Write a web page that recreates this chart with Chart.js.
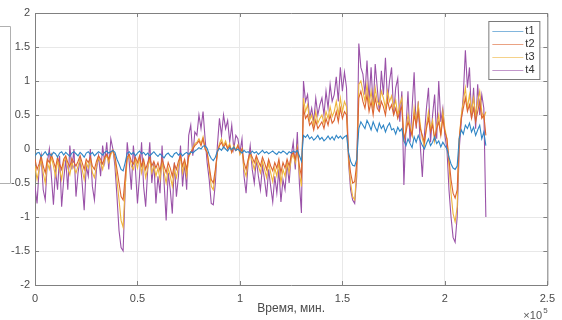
<!DOCTYPE html>
<html>
<head>
<meta charset="utf-8">
<script src="https://cdn.jsdelivr.net/npm/chart.js@4.4.0/dist/chart.umd.min.js"></script>
<style>
  html, body { margin: 0; padding: 0; background: #fff; }
</style>
</head>
<body>
<canvas id="grafico" width="562" height="320"></canvas>
<script>
// paso de muestreo en el eje X (unidades originales, eje en x10^5)
const pasoX = 1000;
const nombres = ['t1', 't2', 't3', 't4'];
const colores = ['#2f86c6', '#dc6430', '#eeb43c', '#9a52a8'];
const ticksX = [0, 0.5, 1, 1.5, 2, 2.5];
const ticksY = [-2, -1.5, -1, -0.5, 0, 0.5, 1, 1.5, 2];

const t1 = [
  -0.1,-0.06,-0.05,-0.11,-0.08,-0.04,-0.09,-0.06,-0.1,-0.05,-0.07,-0.12,-0.06,-0.04,-0.09,-0.05,-0.08,-0.11,-0.06,-0.04,
  -0.07,-0.1,-0.05,-0.08,-0.12,-0.06,-0.04,-0.08,-0.05,-0.1,-0.07,-0.04,-0.06,-0.09,-0.05,-0.03,-0.06,-0.04,-0.02,-0.05,
  -0.15,-0.22,-0.3,-0.32,-0.2,-0.06,-0.04,-0.08,-0.05,-0.1,-0.06,-0.03,-0.07,-0.05,-0.09,-0.06,-0.1,-0.07,-0.04,-0.08,
  -0.11,-0.07,-0.1,-0.13,-0.08,-0.06,-0.1,-0.12,-0.07,-0.05,-0.09,-0.06,-0.1,-0.07,-0.05,-0.08,-0.04,-0.06,-0.03,-0.01,
  0.02,0.0,0.04,0.05,0.01,-0.08,-0.14,-0.17,-0.12,-0.03,0.01,-0.02,0.03,0.0,-0.03,0.02,-0.01,0.03,-0.02,0.0,
  -0.03,-0.06,-0.02,-0.05,-0.04,-0.07,-0.03,-0.06,-0.04,-0.08,-0.05,-0.02,-0.06,-0.04,-0.07,-0.05,-0.03,-0.06,-0.08,-0.04,
  -0.06,-0.03,-0.05,-0.08,-0.04,-0.06,-0.03,-0.05,-0.02,-0.1,-0.18,0.2,0.17,0.21,0.15,0.18,0.13,0.16,0.2,0.14,
  0.17,0.12,0.15,0.19,0.14,0.18,0.13,0.2,0.16,0.19,0.15,0.18,0.2,-0.05,-0.18,-0.24,-0.25,-0.15,0.3,0.4,
  0.35,0.3,0.42,0.36,0.28,0.4,0.32,0.26,0.38,0.3,0.35,0.25,0.33,0.38,0.28,0.3,0.22,0.32,0.26,0.3,
  0.12,0.05,0.15,0.08,0.02,0.18,0.1,0.2,0.12,0.05,0.0,0.08,0.15,0.05,0.1,0.18,0.08,0.12,0.03,0.1,
  0.05,0.0,-0.12,-0.22,-0.28,-0.3,-0.25,0.15,0.28,0.22,0.35,0.3,0.38,0.25,0.32,0.2,0.28,0.35,0.15,0.25,0.05
];
const t2 = [
  -0.15,-0.3,-0.22,-0.1,-0.25,-0.35,-0.15,-0.2,-0.08,-0.18,-0.28,-0.12,-0.22,-0.3,-0.15,-0.1,-0.2,-0.26,-0.14,-0.2,
  -0.25,-0.18,-0.1,-0.2,-0.3,-0.15,-0.2,-0.12,-0.25,-0.3,-0.18,-0.1,-0.15,-0.22,-0.12,-0.08,-0.15,-0.05,-0.02,-0.1,
  -0.3,-0.5,-0.7,-0.75,-0.4,-0.12,-0.08,-0.18,-0.22,-0.12,-0.2,-0.1,-0.25,-0.15,-0.3,-0.2,-0.12,-0.25,-0.18,-0.28,
  -0.2,-0.32,-0.15,-0.25,-0.35,-0.2,-0.28,-0.4,-0.22,-0.3,-0.18,-0.1,-0.25,-0.15,-0.3,-0.1,-0.05,0.0,0.05,0.08,
  0.12,0.05,0.15,0.0,-0.05,-0.25,-0.45,-0.5,-0.3,-0.05,0.05,0.1,0.02,0.08,0.0,0.05,-0.05,0.02,-0.02,0.05,
  -0.05,0.0,-0.2,-0.3,-0.15,-0.05,-0.12,-0.2,-0.1,-0.18,-0.25,-0.12,-0.2,-0.3,-0.15,-0.25,-0.32,-0.2,-0.28,-0.15,
  -0.35,-0.2,-0.28,-0.15,-0.25,-0.1,-0.05,-0.15,0.0,-0.25,-0.4,0.6,0.45,0.5,0.35,0.4,0.28,0.42,0.3,0.35,
  0.4,0.3,0.45,0.35,0.5,0.38,0.42,0.55,0.4,0.6,0.45,0.55,0.5,-0.1,-0.35,-0.5,-0.48,-0.2,0.75,0.85,
  0.7,0.6,0.8,0.55,0.7,0.5,0.75,0.6,0.55,0.7,0.62,0.5,0.72,0.58,0.65,0.5,0.6,0.45,0.55,0.62,
  0.15,0.25,0.4,0.3,0.2,0.5,0.35,0.55,0.3,0.2,0.1,0.3,0.45,0.25,0.35,0.15,0.3,0.4,0.2,0.45,
  0.25,0.15,-0.15,-0.45,-0.65,-0.72,-0.6,0.15,0.45,0.6,0.75,0.55,0.65,0.45,0.6,0.4,0.55,0.7,0.45,0.5,0.2
];
const t3 = [
  -0.25,-0.45,-0.3,-0.15,-0.35,-0.5,-0.2,-0.3,-0.12,-0.25,-0.4,-0.18,-0.3,-0.45,-0.2,-0.12,-0.28,-0.38,-0.2,-0.28,
  -0.35,-0.25,-0.15,-0.3,-0.45,-0.2,-0.28,-0.15,-0.35,-0.42,-0.25,-0.12,-0.2,-0.3,-0.15,-0.1,-0.2,-0.08,-0.02,-0.15,
  -0.45,-0.75,-1.05,-1.15,-0.55,-0.15,-0.1,-0.25,-0.3,-0.15,-0.28,-0.12,-0.35,-0.2,-0.42,-0.28,-0.15,-0.35,-0.25,-0.4,
  -0.28,-0.45,-0.2,-0.35,-0.5,-0.28,-0.4,-0.55,-0.3,-0.42,-0.25,-0.12,-0.35,-0.2,-0.4,-0.12,-0.05,0.02,0.08,0.1,
  0.15,0.08,0.18,0.02,-0.05,-0.3,-0.55,-0.6,-0.35,-0.05,0.08,0.15,0.05,0.12,0.02,0.08,-0.05,0.05,-0.02,0.06,
  -0.08,0.0,-0.3,-0.4,-0.2,-0.08,-0.18,-0.3,-0.15,-0.25,-0.35,-0.18,-0.3,-0.42,-0.2,-0.35,-0.48,-0.28,-0.4,-0.2,
  -0.5,-0.3,-0.4,-0.2,-0.35,-0.15,-0.08,-0.2,0.02,-0.35,-0.55,0.75,0.55,0.65,0.42,0.5,0.35,0.55,0.38,0.45,
  0.5,0.38,0.55,0.45,0.62,0.48,0.55,0.7,0.5,0.75,0.55,0.7,0.62,-0.15,-0.5,-0.7,-0.75,-0.3,0.95,1.0,
  0.85,0.7,0.95,0.65,0.85,0.6,0.9,0.7,0.65,0.85,0.75,0.6,0.85,0.7,0.78,0.6,0.72,0.5,0.65,0.75,
  0.1,0.3,0.5,0.35,0.2,0.6,0.4,0.65,0.35,0.15,0.05,0.35,0.55,0.3,0.42,0.12,0.35,0.5,0.2,0.55,
  0.3,0.15,-0.25,-0.65,-0.95,-1.07,-0.85,0.15,0.5,0.7,0.9,0.6,0.8,0.55,0.75,0.5,0.7,0.85,0.55,0.45,0.55
];
const t4 = [
  -0.55,-0.8,-0.3,-0.1,-0.6,-0.75,-0.2,0.0,-0.4,-0.82,-0.3,-0.6,-0.1,-0.85,-0.45,-0.15,-0.6,0.05,-0.3,0.0,
  -0.7,-0.35,-0.15,-0.5,-0.9,-0.25,-0.4,0.0,-0.55,-0.75,-0.3,-0.1,-0.4,0.05,-0.2,0.1,-0.3,0.15,0.0,-0.25,
  -0.7,-1.2,-1.45,-1.5,-0.6,0.1,-0.2,-0.6,0.05,-0.3,-0.8,-0.4,0.1,-0.55,-0.85,-0.3,0.1,-0.5,-0.2,-0.8,
  -0.4,-0.65,0.05,-0.5,-1.05,-0.35,-0.6,-0.95,-0.2,-0.7,-0.4,0.05,-0.55,-0.2,-0.6,0.2,0.35,-0.1,0.25,0.2,
  0.5,0.3,0.55,0.15,-0.2,-0.45,-0.8,-0.82,-0.5,0.05,0.45,0.2,0.5,0.3,0.42,0.1,0.35,0.0,0.2,0.15,
  -0.05,0.15,-0.4,-0.65,-0.2,0.05,-0.3,-0.5,-0.15,-0.4,-0.6,-0.25,-0.45,-0.7,-0.3,-0.55,-0.78,-0.4,-0.65,-0.3,
  -0.78,-0.45,-0.6,-0.2,-0.5,-0.1,0.1,-0.3,0.25,-0.5,-0.94,1.0,0.7,0.8,0.45,0.6,0.4,0.75,0.5,0.65,
  0.75,0.5,0.85,0.6,0.95,0.7,0.8,1.06,0.7,1.2,0.85,1.13,0.9,-0.2,-0.6,-0.75,-0.8,-0.4,1.55,1.2,
  1.1,0.8,1.3,0.7,1.2,0.6,1.25,0.9,0.55,1.15,0.8,1.34,0.7,1.0,1.2,0.5,0.9,1.04,0.4,0.85,
  -0.53,0.3,0.85,0.1,0.6,1.13,0.3,0.7,0.05,-0.41,0.2,0.6,0.9,0.1,0.5,0.8,0.15,1.0,0.4,0.6,
  0.2,0.0,-0.6,-1.0,-1.3,-1.37,-1.0,0.0,0.4,0.8,1.45,0.9,1.2,0.45,0.9,0.3,0.95,0.5,0.8,0.6,-1.0
];
const series = [t1, t2, t3, t4];

// Marco tipo MATLAB: caja, marcas interiores, leyenda y factor x10^5
const marco = {
  id: 'marco',
  afterDraw(chart) {
    const ctx = chart.ctx;
    const a = chart.chartArea;
    const sx = chart.scales.x, sy = chart.scales.y;
    ctx.save();
    ctx.strokeStyle = '#808080';
    ctx.lineWidth = 1;
    ctx.beginPath();
    ctx.moveTo(a.left, a.top + 0.5);
    ctx.lineTo(a.right + 0.5, a.top + 0.5);
    ctx.lineTo(a.right + 0.5, a.bottom);
    ctx.stroke();

    // marcas hacia dentro
    ctx.beginPath();
    ticksX.forEach(v => {
      const px = Math.round(sx.getPixelForValue(v * 1e5)) + 0.5;
      ctx.moveTo(px, a.bottom); ctx.lineTo(px, a.bottom - 4);
      ctx.moveTo(px, a.top); ctx.lineTo(px, a.top + 4);
    });
    ticksY.forEach(v => {
      const py = Math.round(sy.getPixelForValue(v)) + 0.5;
      ctx.moveTo(a.left, py); ctx.lineTo(a.left + 4, py);
      ctx.moveTo(a.right, py); ctx.lineTo(a.right - 4, py);
    });
    ctx.stroke();

    // panel gris a la izquierda
    ctx.strokeStyle = '#b0b0b0';
    ctx.beginPath();
    ctx.moveTo(0, 26.5); ctx.lineTo(10.5, 26.5); ctx.lineTo(10.5, 183.5); ctx.lineTo(0, 183.5);
    ctx.stroke();

    // leyenda
    const lx = a.right - 59, ly = a.top + 8;
    ctx.fillStyle = '#fff';
    ctx.fillRect(lx, ly, 51, 58);
    ctx.strokeStyle = '#7a7a7a';
    ctx.strokeRect(lx + 0.5, ly + 0.5, 51, 58);
    ctx.font = '11px "Liberation Sans", Arial, sans-serif';
    ctx.textBaseline = 'middle';
    chart.data.datasets.forEach((ds, k) => {
      const yy = ly + 9.5 + k * 13.3;
      ctx.strokeStyle = ds.borderColor;
      ctx.globalAlpha = 0.6;
      ctx.beginPath();
      ctx.moveTo(lx + 4, Math.round(yy) + 0.5);
      ctx.lineTo(lx + 35, Math.round(yy) + 0.5);
      ctx.stroke();
      ctx.globalAlpha = 1;
      ctx.fillStyle = '#333';
      ctx.fillText(ds.label, lx + 37, yy);
    });

    // factor de escala
    ctx.fillStyle = '#555';
    ctx.font = '11px "Liberation Sans", Arial, sans-serif';
    ctx.textBaseline = 'alphabetic';
    ctx.fillText('\u00d710', a.right - 24, 319);
    ctx.font = '8px "Liberation Sans", Arial, sans-serif';
    ctx.fillText('5', a.right - 4, 313);
    ctx.restore();
  }
};

const ctx = document.getElementById('grafico').getContext('2d');
new Chart(ctx, {
  type: 'line',
  data: {
    datasets: series.map((s, k) => ({
      label: nombres[k],
      data: s.map((v, i) => ({ x: i * pasoX, y: v })),
      borderColor: colores[k],
      borderWidth: 1.1,
      pointRadius: 0,
      tension: 0,
      fill: false
    }))
  },
  options: {
    responsive: false,
    animation: false,
    layout: { padding: { top: 13, right: 11, left: 0, bottom: 0 } },
    plugins: { legend: { display: false }, tooltip: { enabled: false } },
    scales: {
      x: {
        type: 'linear',
        min: 0,
        max: 250000,
        afterFit(scale) { scale.height = 35; },
        afterBuildTicks(scale) { scale.ticks = ticksX.map(v => ({ value: v * 1e5 })); },
        grid: { color: '#e8e8e8', drawTicks: false },
        border: { color: '#808080' },
        ticks: {
          padding: 7,
          color: '#4a4a4a',
          font: { family: '"Liberation Sans", Arial, sans-serif', size: 11 },
          callback: v => String(v / 1e5)
        },
        title: {
          display: true,
          text: 'Время, мин.',
          color: '#4a4a4a',
          font: { family: '"Liberation Sans", Arial, sans-serif', size: 12 }
        }
      },
      y: {
        min: -2,
        max: 2,
        afterFit(scale) { scale.width = 35; },
        afterBuildTicks(scale) { scale.ticks = ticksY.map(v => ({ value: v })); },
        grid: { color: '#e8e8e8', drawTicks: false },
        border: { color: '#808080' },
        ticks: {
          padding: 5,
          color: '#4a4a4a',
          font: { family: '"Liberation Sans", Arial, sans-serif', size: 11 },
          callback: v => String(v)
        }
      }
    }
  },
  plugins: [marco]
});
</script>
</body>
</html>
